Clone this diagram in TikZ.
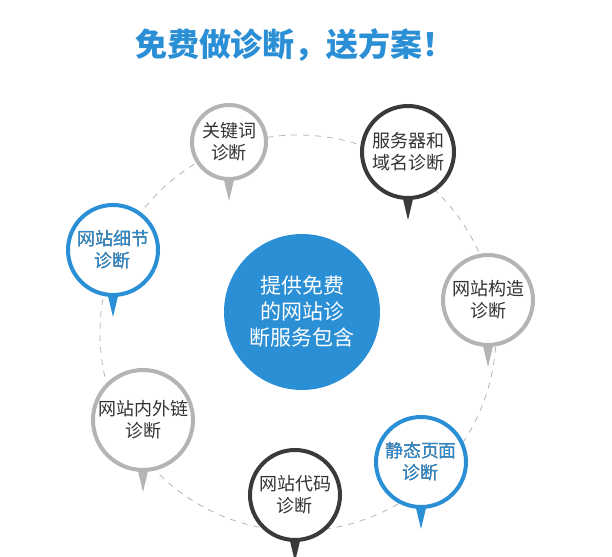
\documentclass[tikz,border=0pt]{standalone}
\usepackage{fontspec}
\setmainfont{Noto Sans CJK SC}
\usetikzlibrary{positioning}
\definecolor{myblue}{HTML}{2B8FD6}
\definecolor{mydark}{HTML}{3A3A3A}
\definecolor{mygray}{HTML}{B4B4B4}
\definecolor{mytext}{HTML}{333333}
\tikzset{
  bubble/.style={circle, draw=#1, line width=2pt, fill=white, text=mytext, align=center,
    font=\fontsize{9}{11}\selectfont, inner sep=0pt},
  hub/.style={circle, fill=myblue, text=white, align=center, minimum size=78pt,
    font=\fontsize{10.5}{13}\selectfont, inner sep=0pt}
}
% bubble with a pointer under it
\newcommand{\bubble}[6]{%
  \fill[#4] (#1-5.5,-#2-#3+2) -- (#1+5.5,-#2-#3+2) -- (#1,-#2-#3-9) -- cycle;
  \node[bubble=#4, minimum size=#3*2pt-2pt, #6] (#5) at (#1,-#2) {#5text};}
\begin{document}
\begin{tikzpicture}[x=0.5pt,y=0.5pt]
\useasboundingbox (0,0) rectangle (612,-557);
\node[text=myblue, font=\fontsize{16}{18}\selectfont\bfseries] (title) at (295,-45) {免费做诊断，送方案！};
\draw[mygray, dashed, line width=0.4pt] (298,-333) circle (198);
\node[hub] (hub) at (302,-312) {提供免费\\的网站诊\\断服务包含};

\foreach \cx/\cy/\r/\col/\nm/\txt in {
  229/142/19.5/mygray/kw/{关键词\\诊断},
  408/152/24/mydark/srv/{服务器和\\域名诊断},
  113/250/23.5/myblue/det/{网站细节\\诊断},
  488/300/23.5/mygray/str/{网站构造\\诊断},
  143/420/26/mygray/lnk/{网站内外链\\诊断},
  421/462/23.5/myblue/sta/{静态页面\\诊断},
  295/495/23.5/mydark/code/{网站代码\\诊断}} {
  \fill[\col] (\cx-5.5,-\cy-\r*2+3) -- (\cx+5.5,-\cy-\r*2+3) -- (\cx,-\cy-\r*2-20) -- cycle;
  \node[bubble=\col, minimum size=\r*2pt-2pt] (\nm) at (\cx,-\cy) {\txt};
}
\node[text=myblue, align=center, font=\fontsize{9}{11}\selectfont] at (det) {网站细节\\诊断};
\node[text=myblue, align=center, font=\fontsize{9}{11}\selectfont] at (sta) {静态页面\\诊断};
\end{tikzpicture}
\end{document}
